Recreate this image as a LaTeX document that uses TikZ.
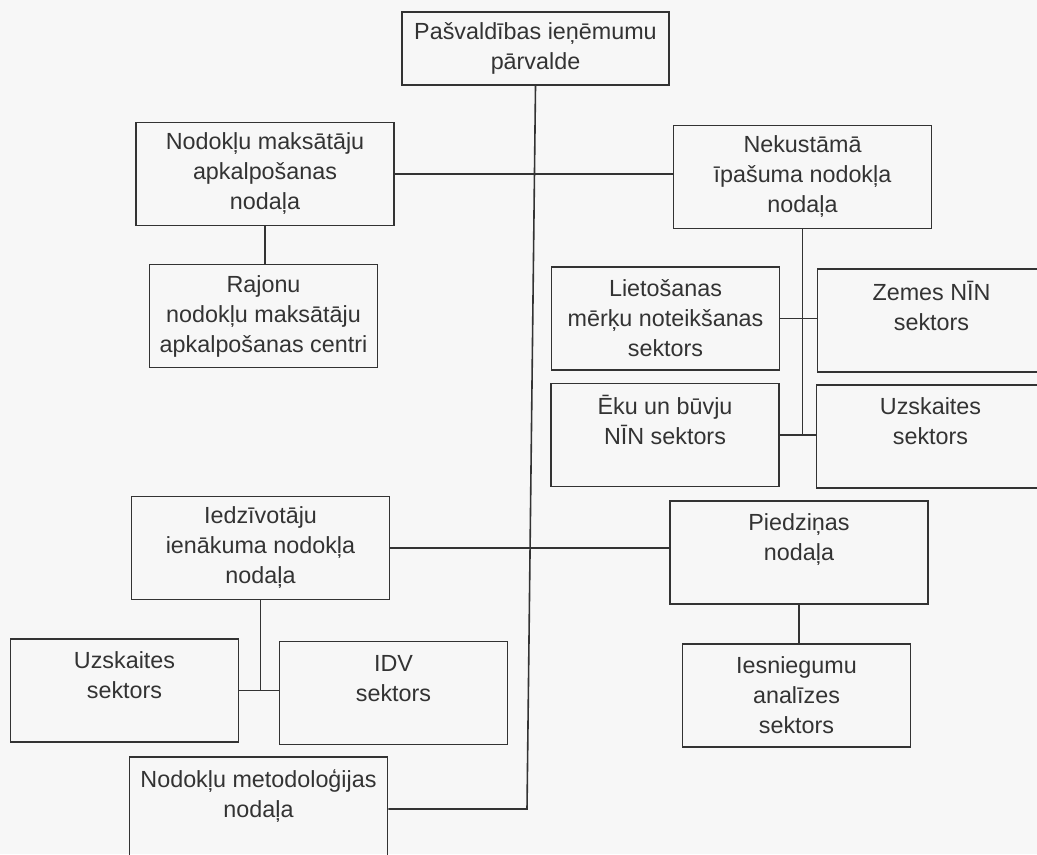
\documentclass[tikz,border=0pt]{standalone}
\usepackage{fontspec}
\setmainfont{Liberation Sans}
\tikzset{every picture/.style={line width=1.2pt}}
\tikzset{
  unit/.style={draw=black!80, text=black!80, align=center, inner sep=2pt,
    font=\fontsize{17.5}{22.5}\selectfont},
  dept/.style={unit, minimum width=193.5pt, minimum height=77pt},
  sect/.style={unit, minimum width=171pt, minimum height=77pt},
  link/.style={draw=black!80}
}

\begin{document}
\begin{tikzpicture}[x=0.75pt,y=0.75pt,yscale=-1,xscale=1]
	\useasboundingbox (0,0) rectangle (1037,854);
	\clip (0,0) rectangle (1037,854);
	\fill[black!3] (0,0) rectangle (1037,854);

	%Shape: Rectangle [head]
	\node[unit, minimum width=200pt, minimum height=55pt] (top) at (535.5,48.5) {Pašvaldības ieņēmumu\\pārvalde};
	%Shape: Rectangle [left column]
	\node[dept] (nmad) at (265,174) {Nodokļu maksātāju\\apkalpošanas\\nodaļa};
	\node[sect] (rajonu) at (263.5,316) {Rajonu\\nodokļu maksātāju\\apkalpošanas centri};
	\node[dept] (iedz) at (260.5,548) {Iedzīvotāju\\ienākuma nodokļa\\nodaļa};
	\node[sect] (uzski) at (124.5,690.5) {Uzskaites\\sektors\\~};
	\node[sect] (idv) at (393.5,693) {IDV\\sektors\\~};
	\node[dept] (metod) at (258.5,808.5) {Nodokļu metodoloģijas\\nodaļa\\~};
	%Shape: Rectangle [right column]
	\node[dept] (nin) at (802.5,177) {Nekustāmā\\īpašuma nodokļa\\nodaļa};
	\node[sect] (liet) at (665.5,318.5) {Lietošanas\\mērķu noteikšanas\\sektors};
	\node[sect] (zemes) at (931.5,320.5) {Zemes NĪN\\sektors\\~};
	\node[sect] (eku) at (665,435) {Ēku un būvju\\NĪN sektors\\~};
	\node[sect] (uzskn) at (930.5,436.5) {Uzskaites\\sektors\\~};
	\node[dept] (piedz) at (799,552.5) {Piedziņas\\nodaļa\\~};
	\node[sect] (iesn) at (796.5,695.5) {Iesniegumu\\analīzes\\sektors};

	%Straight Lines [trunk]
	\coordinate (tend) at (527,809);
	\draw[link] (top.south) -- (tend) -- (metod.east |- tend);
	%Straight Lines [branches]
	\draw[link] (nmad.east) -- (nmad.east -| nin.west);
	\draw[link] (nmad.south) -- (nmad.south |- rajonu.north);
	\draw[link] (nin.south) -- (nin.south |- eku.east);
	\draw[link] (liet.east) -- (liet.east -| zemes.west);
	\draw[link] (eku.east) -- (eku.east -| uzskn.west);
	\draw[link] (iedz.east) -- (iedz.east -| piedz.west);
	\draw[link] (iedz.south) -- (iedz.south |- uzski.east);
	\draw[link] (uzski.east) -- (uzski.east -| idv.west);
	\draw[link] (piedz.south) -- (piedz.south |- iesn.north);

\end{tikzpicture}
\end{document}
